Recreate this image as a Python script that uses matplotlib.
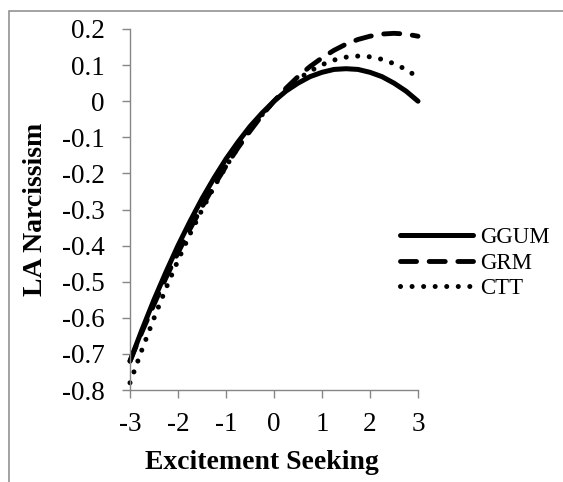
import matplotlib.pyplot as plt
from matplotlib.patches import Rectangle

plt.rcParams['font.family'] = ['Liberation Serif', 'DejaVu Serif']
plt.rcParams['axes.unicode_minus'] = False

# valores (cada 0.25)
excitement = [-3, -2.75, -2.5, -2.25, -2, -1.75, -1.5, -1.25, -1, -0.75, -0.5, -0.25,
              0, 0.25, 0.5, 0.75, 1, 1.25, 1.5, 1.75, 2, 2.25, 2.5, 2.75, 3]
ggum = [-0.72, -0.633, -0.55, -0.473, -0.40, -0.333, -0.27, -0.213, -0.16, -0.113,
        -0.07, -0.033, 0.0, 0.028, 0.05, 0.068, 0.08, 0.088, 0.09, 0.088, 0.08,
        0.068, 0.05, 0.028, 0.0]
grm = [-0.72, -0.639, -0.563, -0.489, -0.42, -0.354, -0.293, -0.234, -0.18, -0.129,
       -0.083, -0.039, 0.0, 0.036, 0.068, 0.096, 0.12, 0.141, 0.158, 0.171, 0.18,
       0.186, 0.188, 0.186, 0.18]
ctt = [-0.78, -0.688, -0.601, -0.518, -0.441, -0.368, -0.301, -0.238, -0.181, -0.128,
       -0.08, -0.038, 0.0, 0.033, 0.061, 0.083, 0.101, 0.114, 0.122, 0.125, 0.123,
       0.116, 0.104, 0.088, 0.066]

x_ticks = [-3, -2, -1, 0, 1, 2, 3]
y_ticks = [-0.8, -0.7, -0.6, -0.5, -0.4, -0.3, -0.2, -0.1, 0, 0.1, 0.2]

gris = '#868686'

fig = plt.figure(figsize=(5.63, 4.82), dpi=100)
ax = fig.add_axes([130 / 563, 1 - 390 / 482, 288 / 563, 361 / 482])

ax.plot(excitement, ggum, color='black', lw=3.6, solid_capstyle='round',
        solid_joinstyle='round', label='GGUM', clip_on=False)
ax.plot(excitement, grm, color='black', lw=3.5, dashes=(3.3, 2.6),
        dash_capstyle='round', label='GRM', clip_on=False)
ax.plot(excitement, ctt, color='black', lw=3.6, dashes=(0.01, 2.3),
        dash_capstyle='round', label='CTT', clip_on=False)

ax.set_xlim(-3, 3)
ax.set_ylim(-0.8, 0.2)
ax.set_xticks(x_ticks)
ax.set_yticks(y_ticks)
ax.set_xticklabels([str(t) for t in x_ticks])
ax.set_yticklabels(['0' if t == 0 else f'{t:.1f}' for t in y_ticks])

for lado in ['top', 'right']:
    ax.spines[lado].set_visible(False)
for lado in ['left', 'bottom']:
    ax.spines[lado].set_color(gris)
    ax.spines[lado].set_linewidth(1.0)
ax.tick_params(direction='out', length=6, width=1.0, color=gris, labelsize=19.5)
ax.tick_params(axis='y', pad=12)
ax.tick_params(axis='x', pad=10)

ax.set_xlabel('Excitement Seeking', fontsize=20, fontweight='bold')
ax.xaxis.set_label_coords((262 - 130) / 288, -0.165)
ax.xaxis.label.set_verticalalignment('top')
ax.set_ylabel('LA Narcissism', fontsize=20, fontweight='bold')
ax.yaxis.set_label_coords(-0.285, 0.5)

fig.legend(loc='upper left', bbox_to_anchor=(400 / 563, 1 - 227 / 482),
           frameon=False, fontsize=16.5, handlelength=3.2, handletextpad=0.3,
           labelspacing=0.2, borderpad=0, borderaxespad=0)

# marco exterior del grafico (como en Excel)
fig.patches.append(Rectangle((9 / 563, -0.2), 1.5, 1.2 - 11 / 482, fill=False,
                             edgecolor='#898989', lw=1.1,
                             transform=fig.transFigure))

fig.savefig('out.png', dpi=100)
